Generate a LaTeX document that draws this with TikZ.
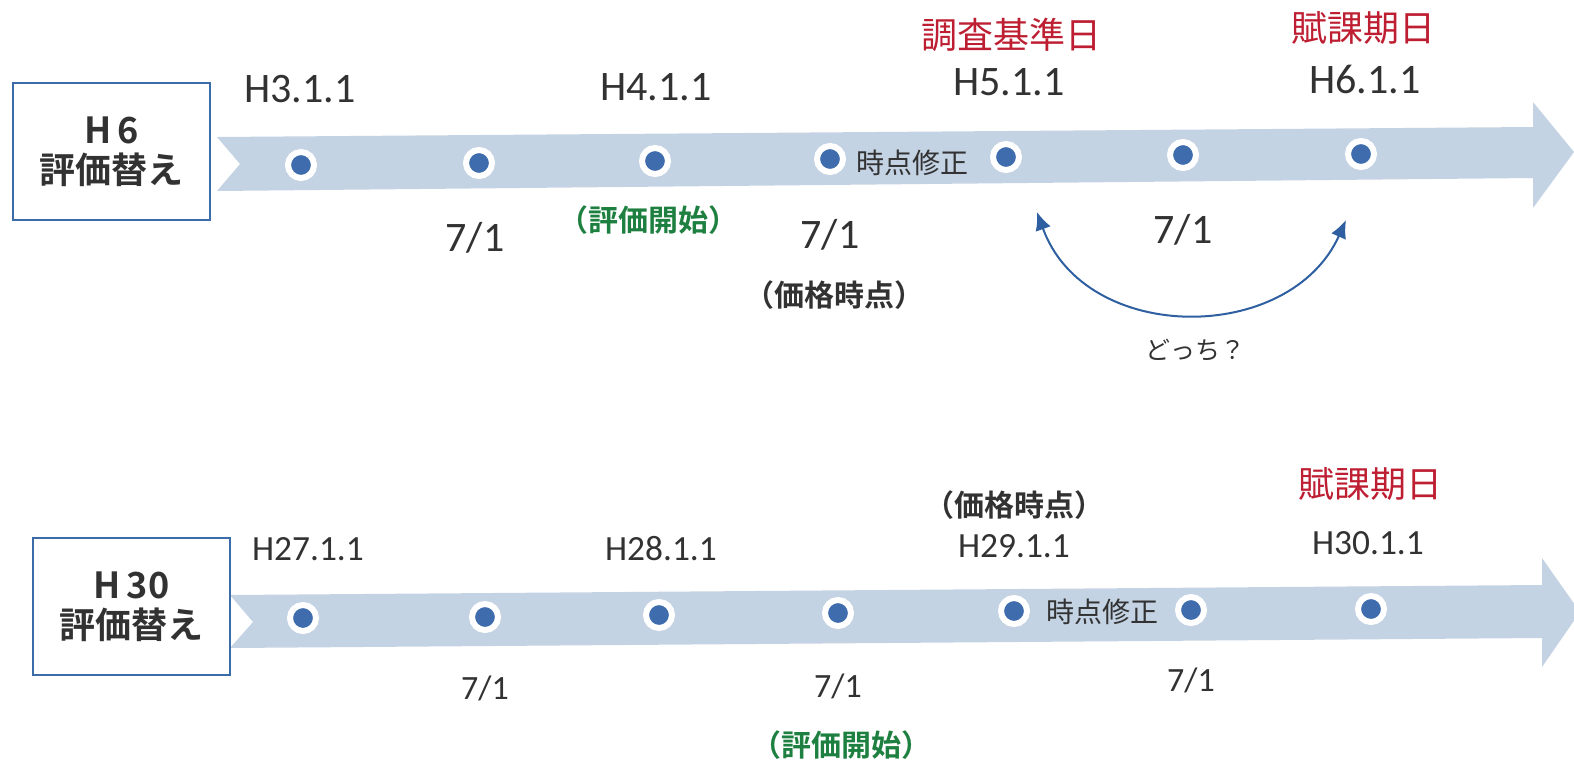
\documentclass[tikz,border=0pt]{standalone}
\usepackage{fontspec}
\setmainfont{Carlito}
\newfontfamily\jp{Noto Sans CJK JP}[BoldFont={Noto Sans CJK JP Bold}]
\usetikzlibrary{arrows.meta}
\definecolor{band}{RGB}{196,211,227}
\definecolor{dotblue}{RGB}{62,108,172}
\definecolor{boxblue}{RGB}{60,108,168}
\definecolor{redt}{RGB}{190,30,50}
\definecolor{greent}{RGB}{30,128,64}
\definecolor{darkt}{RGB}{50,50,50}
\definecolor{arcblue}{RGB}{46,95,160}
\tikzset{
  dot/.style={circle,fill=dotblue,draw=white,line width=3pt,minimum size=13pt,inner sep=0pt},
  datelbl/.style={font=\fontsize{21}{24}\selectfont,text=darkt,inner sep=0pt},
  jullbl/.style={font=\fontsize{21}{24}\selectfont,text=darkt,inner sep=0pt},
  datelblb/.style={font=\fontsize{17.7}{20}\selectfont,text=darkt,inner sep=0pt},
  jullblb/.style={font=\fontsize{17}{20}\selectfont,text=darkt,inner sep=0pt},
  redlbl/.style={font=\jp\fontsize{18}{20}\selectfont,text=redt,inner sep=0pt},
  greenlbl/.style={font=\jp\bfseries\fontsize{15}{18}\selectfont,text=greent,inner sep=0pt},
  pricelbl/.style={font=\jp\bfseries\fontsize{15}{18}\selectfont,text=darkt,inner sep=0pt},
  fixlbl/.style={font=\jp\fontsize{14}{16}\selectfont,text=darkt,inner sep=0pt},
  asklbl/.style={font=\jp\fontsize{12.5}{14}\selectfont,text=darkt,inner sep=0pt},
  titlebox/.style={draw=boxblue,line width=1.2pt,fill=white,minimum width=98.5pt,minimum height=68.5pt,inner sep=0pt,align=center,text=darkt,font=\jp\bfseries\fontsize{18}{22}\selectfont},
}
\begin{document}
\begin{tikzpicture}[x=0.5pt,y=-0.5pt]
\useasboundingbox (0,0) rectangle (1574,762);
% top band arrow
\fill[band] (217,137) -- (1533,127) -- (1533,102) -- (1574,152) -- (1533,208) -- (1533,178) -- (217,191) -- (240,164) -- cycle;
% bottom band arrow
\fill[band] (230,595) -- (1542,585) -- (1542,558) -- (1580,612) -- (1542,667) -- (1542,638) -- (230,648) -- (253,622) -- cycle;
% boxes
\node[titlebox] (b1) at (111.5,151.5) {H\,6\\[-2pt]評価替え};
\node[titlebox] (b2) at (131.5,606.5) {H\,30\\[-2pt]評価替え};
% top dots
\node[dot] (t1) at (301,165) {};
\node[dot] (t2) at (479,163) {};
\node[dot] (t3) at (655,161) {};
\node[dot] (t4) at (830,159) {};
\node[dot] (t5) at (1006,157) {};
\node[dot] (t6) at (1183,155) {};
\node[dot] (t7) at (1361,154) {};
% bottom dots
\node[dot] (u1) at (303,618) {};
\node[dot] (u2) at (485,617) {};
\node[dot] (u3) at (659,615) {};
\node[dot] (u4) at (838,613) {};
\node[dot] (u5) at (1014,611) {};
\node[dot] (u6) at (1191,610) {};
\node[dot] (u7) at (1371,609) {};
% top labels
\node[datelbl] (h3) at (300,89) {H3.1.1};
\node[datelbl] (h4) at (656,87) {H4.1.1};
\node[datelbl] (h5) at (1009,82) {H5.1.1};
\node[datelbl] (h6) at (1365,79) {H6.1.1};
\node[redlbl] (r1) at (1011,35) {調査基準日};
\node[redlbl] (r2) at (1363,28) {賦課期日};
\node[jullbl] (j1) at (475,238) {7/1};
\node[jullbl] (j2) at (830,235) {7/1};
\node[jullbl] (j3) at (1183,230) {7/1};
\node[greenlbl] (g1) at (648,220) {（評価開始）};
\node[pricelbl] (p1) at (834,295) {（価格時点）};
\node[fixlbl] (f1) at (912,163) {時点修正};
\node[asklbl] (q1) at (1195,350) {どっち？};
\coordinate (aL) at (1037,212);
\coordinate (aR) at (1346,220);
\draw[arcblue,line width=1pt,{Latex[length=9pt,width=8pt]}-{Latex[length=9pt,width=8pt]}] (aL) .. controls (1085,345) and (1290,345) .. (aR);
% bottom labels
\node[datelblb] (h27) at (308,549) {H27.1.1};
\node[datelblb] (h28) at (661,549) {H28.1.1};
\node[datelblb] (h29) at (1014,546) {H29.1.1};
\node[datelblb] (h30) at (1368,543) {H30.1.1};
\node[pricelbl] (p2) at (1014,505) {（価格時点）};
\node[redlbl] (r3) at (1370,484) {賦課期日};
\node[jullblb] (j4) at (485,688) {7/1};
\node[jullblb] (j5) at (838,686) {7/1};
\node[jullblb] (j6) at (1191,680) {7/1};
\node[greenlbl] (g2) at (841,745) {（評価開始）};
\node[fixlbl] (f2) at (1102,612) {時点修正};
\end{tikzpicture}
\end{document}
